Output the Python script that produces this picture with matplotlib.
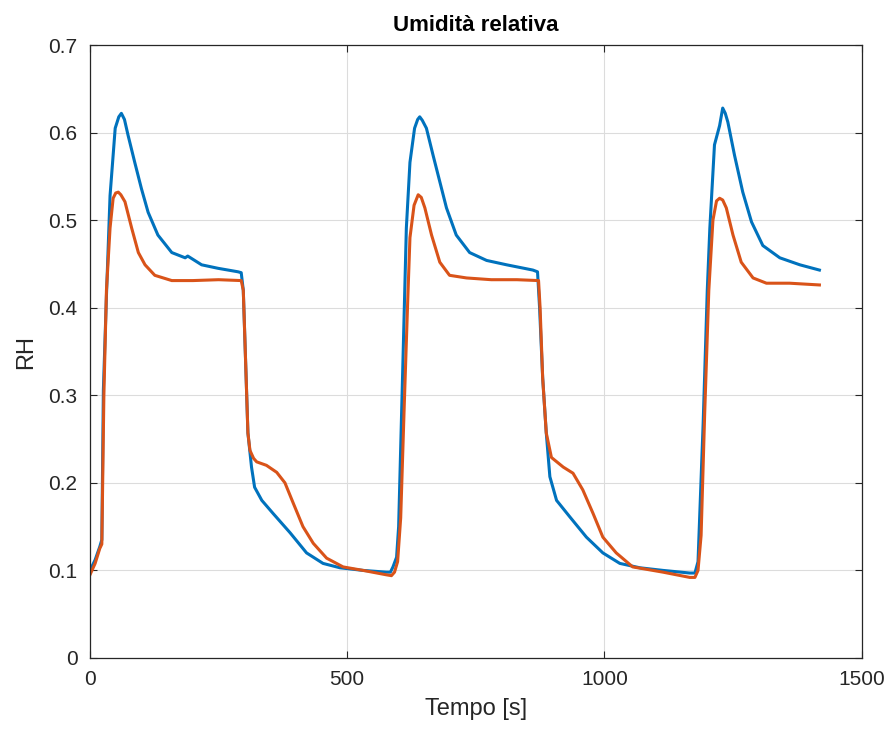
import numpy as np
import matplotlib
matplotlib.use("Agg")
import matplotlib.pyplot as plt

plt.rcParams['font.family'] = ['Liberation Sans', 'DejaVu Sans']

# sensore 1 (blu)
t_blue = [0, 10, 19, 23, 26, 32, 39, 49, 56, 61, 67, 74, 87, 100, 113, 132, 159, 185, 190, 217, 249,
          288, 294, 298, 303, 307, 314, 320, 334, 356, 389, 421, 453, 486, 531, 576, 584,
          589, 596, 600, 608, 615, 622, 631, 637, 641, 646, 654, 667, 680, 693, 712, 738, 771, 810,
          861, 870,
          874, 880, 887, 894, 907, 933, 965, 997, 1030, 1069, 1114, 1166, 1176,
          1182, 1192, 1200, 1205, 1214, 1224, 1230, 1235, 1240, 1253, 1269, 1286, 1308, 1341, 1380,
          1418]
rh_blue = [0.100, 0.112, 0.127, 0.135, 0.306, 0.414, 0.528, 0.605, 0.618, 0.622, 0.615, 0.597, 0.566,
           0.536, 0.509, 0.483, 0.463, 0.457, 0.459, 0.449, 0.445,
           0.441, 0.440, 0.420, 0.330, 0.257, 0.218, 0.195, 0.180, 0.165, 0.143, 0.120, 0.108, 0.103,
           0.100, 0.098, 0.098,
           0.104, 0.115, 0.150, 0.330, 0.491, 0.566, 0.605, 0.615, 0.618, 0.614, 0.605, 0.574, 0.544,
           0.514, 0.483, 0.463, 0.454, 0.449,
           0.443, 0.441,
           0.400, 0.320, 0.257, 0.207, 0.180, 0.161, 0.138, 0.120, 0.108, 0.103, 0.100, 0.097, 0.097,
           0.110, 0.268, 0.420, 0.491, 0.586, 0.608, 0.628, 0.622, 0.612, 0.574, 0.532, 0.498, 0.471,
           0.457, 0.449, 0.443]

# sensore 2 (arancione)
t_red = [0, 10, 19, 23, 27, 32, 39, 45, 50, 55, 60, 68, 81, 94, 107, 126, 159, 200, 250, 294,
         298, 303, 307, 311, 318, 324, 343, 363, 379, 395, 414, 434, 460, 492, 531, 576, 586,
         592, 598, 604, 611, 618, 622, 630, 638, 644, 651, 664, 680, 699, 732, 780, 830, 872,
         875, 880, 887, 897, 920, 939, 958, 978, 997, 1023, 1055, 1114, 1166, 1176,
         1182, 1188, 1195, 1203, 1211, 1218, 1224, 1230, 1237, 1250, 1266, 1289, 1315, 1360, 1418]
rh_red = [0.095, 0.108, 0.125, 0.130, 0.300, 0.420, 0.491, 0.525, 0.531, 0.532, 0.529, 0.521, 0.491,
          0.463, 0.449, 0.437, 0.431, 0.431, 0.432, 0.431,
          0.420, 0.330, 0.257, 0.237, 0.228, 0.224, 0.220, 0.212, 0.200, 0.177, 0.150, 0.131, 0.114,
          0.104, 0.100, 0.095, 0.094,
          0.098, 0.110, 0.160, 0.290, 0.414, 0.480, 0.517, 0.529, 0.526, 0.514, 0.483, 0.452, 0.437,
          0.434, 0.432, 0.432, 0.431,
          0.400, 0.320, 0.257, 0.229, 0.218, 0.211, 0.192, 0.165, 0.138, 0.120, 0.104, 0.098, 0.092,
          0.092,
          0.100, 0.140, 0.280, 0.420, 0.500, 0.522, 0.525, 0.523, 0.514, 0.483, 0.452, 0.434, 0.428,
          0.428, 0.426]

fig = plt.figure(figsize=(8.91, 7.31), dpi=100)
ax = fig.add_axes([0.101, 0.0999, 0.866, 0.8385])

ax.plot(t_blue, rh_blue, color='#0072BD', linewidth=2.2)
ax.plot(t_red, rh_red, color='#D95319', linewidth=2.2)

ax.set_xlim(0, 1500)
ax.set_ylim(0, 0.7)
ax.set_xticks([0, 500, 1000, 1500])
ax.set_yticks(np.arange(0, 0.71, 0.1))
ax.set_yticklabels(['0', '0.1', '0.2', '0.3', '0.4', '0.5', '0.6', '0.7'])

ax.grid(True, color='#dcdcdc', linewidth=0.8)
ax.set_axisbelow(True)
ax.tick_params(direction='in', top=True, right=True, labelsize=15, colors='#262626', length=5)
ax.tick_params(axis='x', pad=9)
ax.tick_params(axis='y', pad=9)
for s in ax.spines.values():
    s.set_color('#262626')
    s.set_linewidth(0.9)

ax.set_title('Umidità relativa', fontsize=16, fontweight='bold', color='#000000', pad=10)
ax.set_xlabel('Tempo [s]', fontsize=17, color='#262626', labelpad=6)
ax.set_ylabel('RH', fontsize=17, color='#262626', labelpad=8)

fig.savefig('out.png', dpi=100)
